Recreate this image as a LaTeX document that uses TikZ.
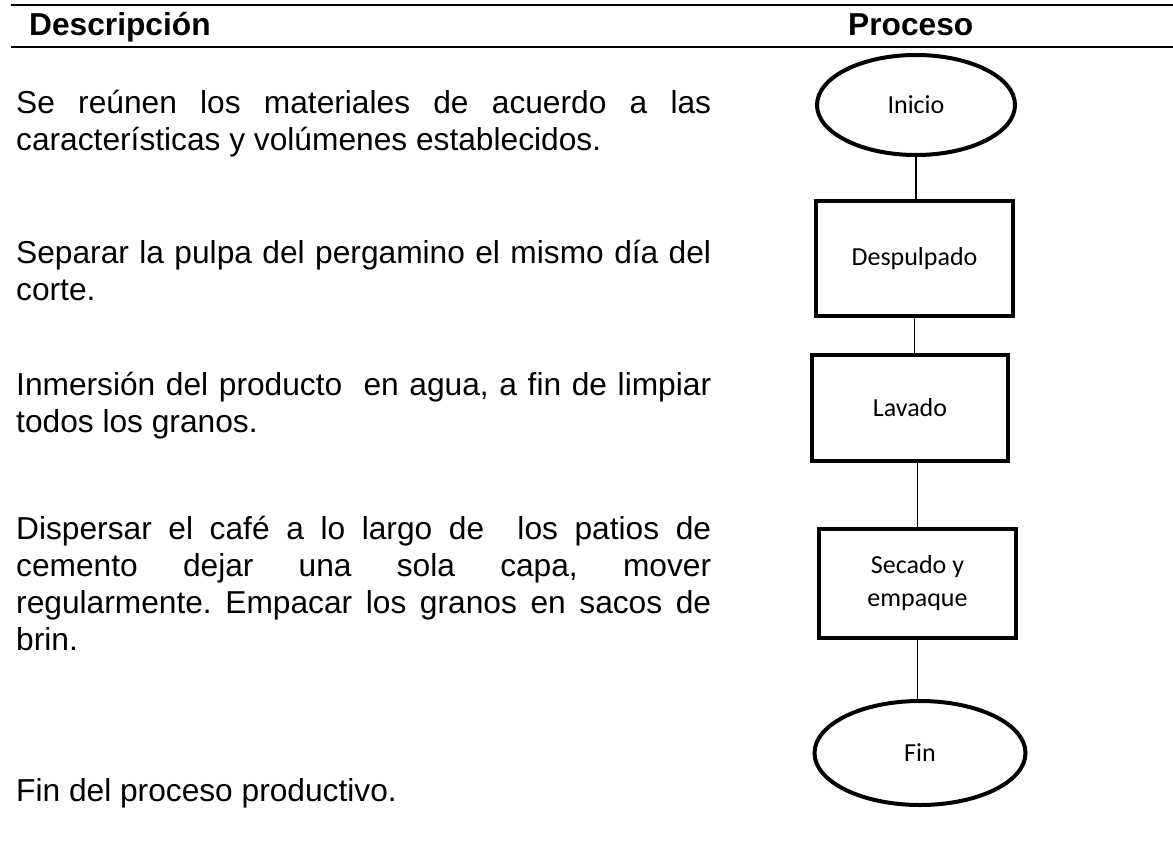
\documentclass[tikz,border=0pt]{standalone}
\usepackage{fontspec}
\setmainfont{Liberation Sans}
\newfontfamily\flowfont{Carlito}
\usetikzlibrary{shapes.geometric}
\tolerance=10000
\hbadness=10000
\tikzset{
  head/.style    = {anchor=base west, inner sep=0pt,
                    font=\fontsize{31.7}{37}\selectfont\bfseries},
  desc/.style    = {anchor=base west, inner sep=0pt, text width=695pt, align=justify,
                    font=\fontsize{31.7}{37}\selectfont\frenchspacing},
  hrule/.style   = {line width=2pt},
  term/.style    = {draw, ellipse, line width=4pt,
                    font=\flowfont\fontsize{26}{33}\selectfont},
  stepbox/.style = {draw, rectangle, line width=4pt, align=center,
                    font=\flowfont\fontsize{26}{33}\selectfont},
  link/.style    = {line width=1.5pt},
}

\begin{document}
\begin{tikzpicture}[x=1pt,y=-1pt]
  \useasboundingbox (0,0) rectangle (1173,846);
  % header
  \draw[hrule] (11,5) -- (1173,5);
  \draw[hrule] (11,47) -- (1173,47);
  \node[head] (hdesc) at (29,35.7) {Descripción};
  \node[head] (hproc) at (848,35.7) {Proceso};

  % descriptions
  \node[desc] (d1) at (16,113) {Se reúnen los materiales de acuerdo a las\linebreak
    características y volúmenes establecidos.};
  \node[desc] (d2) at (16,263) {Separar la pulpa del pergamino el mismo día del\linebreak
    corte.};
  \node[desc] (d3) at (16,395) {Inmersión del producto\ \ en agua, a fin de limpiar\linebreak
    todos los granos.};
  \node[desc] (d4) at (16,539) {Dispersar el café a lo largo de\ \ los patios de\linebreak
    cemento dejar una sola capa, mover\linebreak
    regularmente. Empacar los granos en sacos de\linebreak
    brin.};
  \node[desc] (d5) at (16,801) {Fin del proceso productivo.};

  % flowchart
  \node[term, minimum width=198pt, minimum height=100pt] (inicio) at (916,105) {Inicio};
  \node[stepbox, minimum width=197pt, minimum height=115pt] (desp) at (914.5,258.5) {Despulpado};
  \node[stepbox, minimum width=196pt, minimum height=106pt] (lavado) at (910,408) {Lavado};
  \node[stepbox, minimum width=197pt, minimum height=109pt] (secado) at (917.5,583.5) {Secado y\\empaque};
  \node[term, minimum width=211pt, minimum height=104pt] (fin) at (920,753) {Fin};

  \draw[link] (inicio.south) -- (inicio.south |- desp.north);
  \draw[link] (desp.south) -- (desp.south |- lavado.north);
  \draw[link] (secado.north |- lavado.south) -- (secado.north);
  \draw[link] (secado.south) -- (secado.south |- fin.north);
\end{tikzpicture}
\end{document}
